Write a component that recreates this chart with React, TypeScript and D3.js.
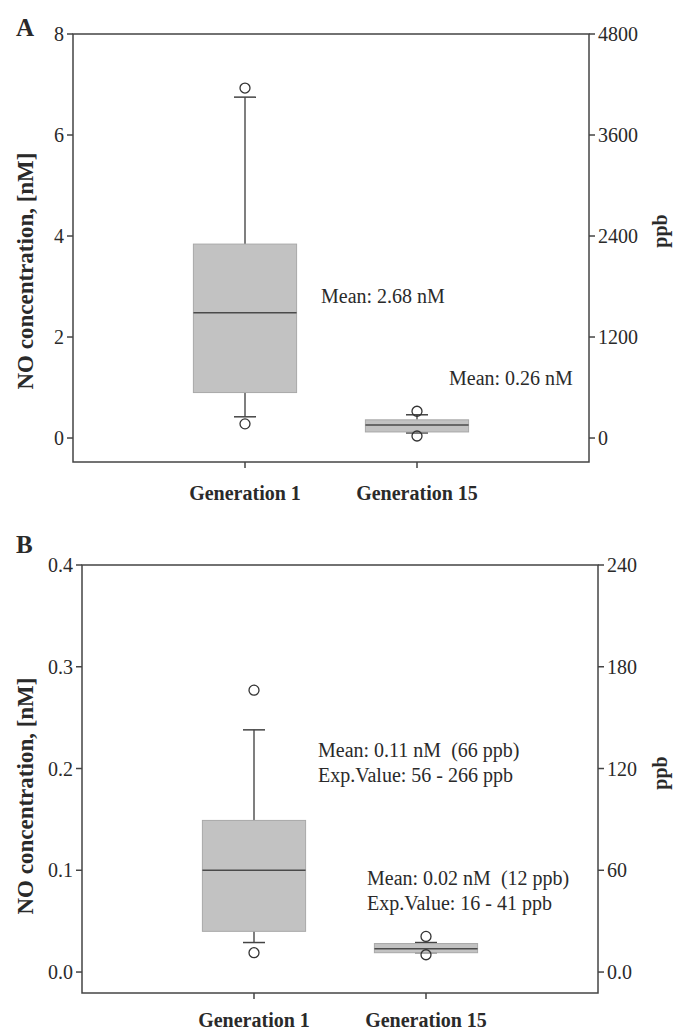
import React from "react";
import * as d3 from "d3";

const categories = ["Generation 1", "Generation 15"];
const ppbPerNm = 600;

// panel A, values in nM
const aWhiskerLow = [0.42, 0.1];
const aQ1 = [0.9, 0.12];
const aMedian = [2.48, 0.26];
const aQ3 = [3.84, 0.36];
const aWhiskerHigh = [6.75, 0.46];
const aOutliers = [[0.28, 6.93], [0.04, 0.53]];
const aLeftTicks = [0, 2, 4, 6, 8];
const aRightTicks = [0, 1200, 2400, 3600, 4800];
const aNotes = [["Mean: 2.68 nM"], ["Mean: 0.26 nM"]];

// panel B, values in nM
const bWhiskerLow = [0.029, 0.019];
const bQ1 = [0.04, 0.019];
const bMedian = [0.1, 0.023];
const bQ3 = [0.149, 0.028];
const bWhiskerHigh = [0.238, 0.029];
const bOutliers = [[0.019, 0.277], [0.017, 0.035]];
const bLeftTicks = [0, 0.1, 0.2, 0.3, 0.4];
const bRightTicks = [0, 60, 120, 180, 240];
const bNotes = [
  ["Mean: 0.11 nM  (66 ppb)", "Exp.Value: 56 - 266 ppb"],
  ["Mean: 0.02 nM  (12 ppb)", "Exp.Value: 16 - 41 ppb"],
];

const serif = "'Liberation Serif', 'Times New Roman', serif";
const ink = "#2a2a2a";
const axisColor = "#444";

const Panel = ({ cfg }) => {
  const x = d3
    .scalePoint()
    .domain(categories)
    .range([cfg.left, cfg.right])
    .padding(1);
  const y = d3.scaleLinear().domain(cfg.domain).range([cfg.bottom, cfg.top]);
  const yR = d3
    .scaleLinear()
    .domain(cfg.domain.map((v) => v * ppbPerNm))
    .range([cfg.bottom, cfg.top]);
  const boxW = x.step() * 0.6;
  const capW = 22;

  return (
    <g>
      <text x={16} y={cfg.letterY} fontFamily={serif} fontWeight="bold" fontSize={25} fill={ink}>
        {cfg.letter}
      </text>

      {/* frame */}
      <rect
        x={cfg.left}
        y={cfg.top}
        width={cfg.right - cfg.left}
        height={cfg.bottom - cfg.top}
        fill="none"
        stroke={axisColor}
        strokeWidth={1.5}
      />

      {/* left axis */}
      {cfg.leftTicks.map((t) => (
        <g key={"l" + t}>
          <line x1={cfg.left - 6} x2={cfg.left} y1={y(t)} y2={y(t)} stroke={axisColor} strokeWidth={1.5} />
          <text
            x={cfg.left - 9}
            y={y(t)}
            textAnchor="end"
            dominantBaseline="central"
            fontFamily={serif}
            fontSize={20}
            fill={ink}
          >
            {cfg.leftFormat(t)}
          </text>
        </g>
      ))}

      {/* right axis */}
      {cfg.rightTicks.map((t) => (
        <g key={"r" + t}>
          <line x1={cfg.right} x2={cfg.right + 6} y1={yR(t)} y2={yR(t)} stroke={axisColor} strokeWidth={1.5} />
          <text
            x={cfg.right + 9}
            y={yR(t)}
            dominantBaseline="central"
            fontFamily={serif}
            fontSize={20}
            fill={ink}
          >
            {cfg.rightFormat(t)}
          </text>
        </g>
      ))}

      {/* category axis */}
      {categories.map((c) => (
        <g key={"c" + c}>
          <line x1={x(c)} x2={x(c)} y1={cfg.bottom} y2={cfg.bottom + 6} stroke={axisColor} strokeWidth={1.5} />
          <text
            x={x(c)}
            y={cfg.catY}
            textAnchor="middle"
            fontFamily={serif}
            fontWeight="bold"
            fontSize={20}
            fill={ink}
          >
            {c}
          </text>
        </g>
      ))}

      {/* axis titles */}
      <text
        transform={`translate(33,${cfg.labelY}) rotate(-90)`}
        textAnchor="middle"
        fontFamily={serif}
        fontWeight="bold"
        fontSize={23}
        fill={ink}
      >
        NO concentration, [nM]
      </text>
      <text
        transform={`translate(667,${cfg.ppbY}) rotate(-90)`}
        textAnchor="middle"
        fontFamily={serif}
        fontWeight="bold"
        fontSize={20}
        fill={ink}
      >
        ppb
      </text>

      {/* boxes */}
      {categories.map((c, i) => {
        const cx = x(c);
        return (
          <g key={"b" + c}>
            <line x1={cx} x2={cx} y1={y(cfg.q3[i])} y2={y(cfg.high[i])} stroke="#555" strokeWidth={1.5} />
            <line x1={cx} x2={cx} y1={y(cfg.q1[i])} y2={y(cfg.low[i])} stroke="#555" strokeWidth={1.5} />
            <line x1={cx - capW / 2} x2={cx + capW / 2} y1={y(cfg.high[i])} y2={y(cfg.high[i])} stroke="#444" strokeWidth={1.5} />
            <line x1={cx - capW / 2} x2={cx + capW / 2} y1={y(cfg.low[i])} y2={y(cfg.low[i])} stroke="#444" strokeWidth={1.5} />
            <rect
              x={cx - boxW / 2}
              y={y(cfg.q3[i])}
              width={boxW}
              height={y(cfg.q1[i]) - y(cfg.q3[i])}
              fill="#c2c2c2"
              stroke="#a8a8a8"
              strokeWidth={1}
            />
            <line
              x1={cx - boxW / 2}
              x2={cx + boxW / 2}
              y1={y(cfg.median[i])}
              y2={y(cfg.median[i])}
              stroke="#4a4a4a"
              strokeWidth={1.5}
            />
            {cfg.outliers[i].map((o, j) => (
              <circle key={j} cx={cx} cy={y(o)} r={5} fill="none" stroke="#333" strokeWidth={1.3} />
            ))}
          </g>
        );
      })}

      {/* notes */}
      {cfg.notes.map((lines, i) => (
        <text
          key={"n" + i}
          fontFamily={serif}
          fontSize={20}
          fill={ink}
          style={{ whiteSpace: "pre" }}
        >
          {lines.map((s, k) => (
            <tspan key={k} x={cfg.notePos[i][0]} y={cfg.notePos[i][1] + k * 25}>
              {s}
            </tspan>
          ))}
        </text>
      ))}
    </g>
  );
};

const panelA = {
  letter: "A",
  letterY: 36,
  left: 73,
  right: 589,
  top: 34,
  bottom: 462,
  domain: [-0.475, 8],
  leftTicks: aLeftTicks,
  rightTicks: aRightTicks,
  leftFormat: (d) => d3.format("d")(d),
  rightFormat: (d) => d3.format("d")(d),
  low: aWhiskerLow,
  q1: aQ1,
  median: aMedian,
  q3: aQ3,
  high: aWhiskerHigh,
  outliers: aOutliers,
  notes: aNotes,
  notePos: [
    [321, 303],
    [449, 385],
  ],
  catY: 500,
  labelY: 271,
  ppbY: 231,
};

const panelB = {
  letter: "B",
  letterY: 553,
  left: 82,
  right: 598,
  top: 565,
  bottom: 993,
  domain: [-0.0206, 0.4],
  leftTicks: bLeftTicks,
  rightTicks: bRightTicks,
  leftFormat: (d) => d3.format(".1f")(d),
  rightFormat: (d) => (d === 0 ? "0.0" : d3.format("d")(d)),
  low: bWhiskerLow,
  q1: bQ1,
  median: bMedian,
  q3: bQ3,
  high: bWhiskerHigh,
  outliers: bOutliers,
  notes: bNotes,
  notePos: [
    [318, 757],
    [367, 885],
  ],
  catY: 1027,
  labelY: 796,
  ppbY: 773,
};

export default function App() {
  return (
    <svg
      width={673}
      height={1033}
      style={{ position: "absolute", left: 0, top: 0, background: "#fff" }}
    >
      <rect width={673} height={1033} fill="#fff" />
      <Panel cfg={panelA} />
      <Panel cfg={panelB} />
    </svg>
  );
}
